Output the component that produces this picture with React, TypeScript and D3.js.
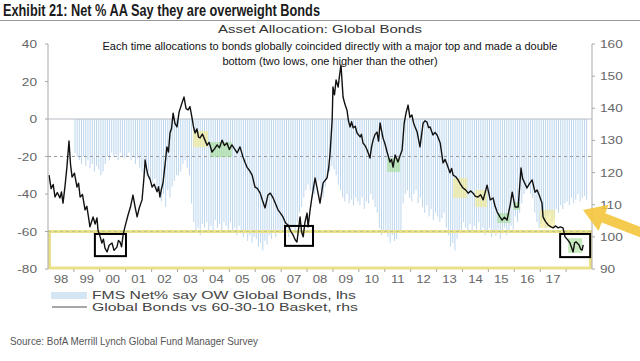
import * as d3 from 'd3';

// FMS net % overweight global bonds (lhs), monthly from Jan 1999
const fmsNet = [
  -18, -20, -22, -24, -20, -25, -22, -26, -24, -28, -25, -27, // 1999
  -30, -28, -24, -20, -22, -18, -20, -19, -22, -18, -20, -21, // 2000
  -20, -18, -22, -20, -24, -21, -26, -28, -25, -30, -28, -32, // 2001
  -34, -32, -38, -36, -44, -40, -47, -38, -42, -36, -33, -30, // 2002
  -30, -28, -24, -22, -26, -30, -45, -55, -60, -58, -62, -56, // 2003
  -58, -55, -60, -57, -61, -54, -58, -56, -60, -55, -57, -59, // 2004
  -55, -60, -58, -62, -57, -61, -63, -60, -65, -62, -66, -63, // 2005
  -64, -68, -66, -70, -65, -67, -62, -64, -60, -63, -59, -61, // 2006
  -60, -62, -58, -63, -60, -57, -61, -55, -50, -47, -42, -38, // 2007
  -35, -38, -42, -40, -36, -33, -38, -42, -36, -30, -28, -25, // 2008
  -27, -30, -35, -38, -42, -44, -40, -45, -43, -46, -42, -44, // 2009
  -46, -42, -48, -44, -45, -40, -43, -47, -50, -58, -62, -60, // 2010
  -60, -63, -66, -62, -65, -64, -60, -61, -45, -40, -38, -42, // 2011
  -44, -40, -38, -45, -42, -47, -50, -46, -52, -48, -54, -50, // 2012
  -52, -55, -53, -50, -58, -62, -68, -66, -70, -64, -61, -59, // 2013
  -55, -58, -60, -56, -61, -57, -59, -55, -60, -58, -62, -60, // 2014
  -58, -63, -60, -62, -59, -64, -61, -58, -62, -60, -57, -59, // 2015
  -52, -55, -50, -45, -40, -38, -36, -40, -42, -50, -55, -58, // 2016
  -56, -54, -58, -52, -50, -55, -53, -48, -50, -46, -48, -45, // 2017
  -44, -46, -42, -45, -43, -40, -44, -42, -41, -43,           // 2018
];
const fmsStartYear = 1999;

// Global Bonds vs 60-30-10 basket (rhs)
const bondDates = [
  1998.04, 1998.12, 1998.2, 1998.27, 1998.36, 1998.46, 1998.52, 1998.58, 1998.66, 1998.73,
  1998.81, 1998.87, 1998.93, 1999.02, 1999.12, 1999.18, 1999.24, 1999.33, 1999.43, 1999.5,
  1999.62, 1999.68, 1999.74, 1999.82, 1999.89, 1999.93, 2000.0, 2000.08, 2000.14, 2000.2,
  2000.28, 2000.36, 2000.47, 2000.55, 2000.66, 2000.72, 2000.78, 2000.84, 2000.9, 2000.97,
  2001.09, 2001.18, 2001.28, 2001.36, 2001.44, 2001.52, 2001.63, 2001.7, 2001.75, 2001.81,
  2001.86, 2001.94, 2002.02, 2002.1, 2002.21, 2002.27, 2002.32, 2002.38, 2002.44, 2002.52,
  2002.59, 2002.65, 2002.71, 2002.77, 2002.83, 2002.9, 2002.98, 2003.06, 2003.17, 2003.25,
  2003.33, 2003.41, 2003.48, 2003.56, 2003.62, 2003.68, 2003.75, 2003.81, 2003.87, 2003.96,
  2004.06, 2004.14, 2004.22, 2004.33, 2004.42, 2004.53, 2004.62, 2004.72, 2004.81, 2004.91,
  2005.0, 2005.1, 2005.2, 2005.3, 2005.41, 2005.53, 2005.6, 2005.68, 2005.78, 2005.88,
  2005.99, 2006.08, 2006.19, 2006.28, 2006.38, 2006.49, 2006.58, 2006.69, 2006.78, 2006.88,
  2006.98, 2007.07, 2007.17, 2007.27, 2007.36, 2007.46, 2007.54, 2007.61, 2007.73, 2007.79,
  2007.85, 2007.92, 2008.0, 2008.04, 2008.12, 2008.19, 2008.31, 2008.4, 2008.5, 2008.62,
  2008.77, 2008.84, 2008.89, 2008.97, 2009.0, 2009.06, 2009.12, 2009.2, 2009.26, 2009.31,
  2009.39, 2009.46, 2009.54, 2009.6, 2009.66, 2009.72, 2009.78, 2009.86, 2009.93, 2010.05,
  2010.1, 2010.16, 2010.24, 2010.32, 2010.43, 2010.49, 2010.55, 2010.62, 2010.7, 2010.76,
  2010.82, 2010.88, 2010.93, 2011.01, 2011.09, 2011.2, 2011.26, 2011.32, 2011.4, 2011.51,
  2011.58, 2011.67, 2011.75, 2011.82, 2011.9, 2011.97, 2012.05, 2012.11, 2012.17, 2012.25,
  2012.36, 2012.48, 2012.55, 2012.63, 2012.69, 2012.75, 2012.86, 2012.94, 2013.02, 2013.14,
  2013.25, 2013.33, 2013.41, 2013.52, 2013.58, 2013.64, 2013.74, 2013.83, 2013.92, 2014.02,
  2014.12, 2014.22, 2014.32, 2014.41, 2014.5, 2014.6, 2014.7, 2014.8, 2014.95, 2015.07,
  2015.18, 2015.26, 2015.34, 2015.44, 2015.53, 2015.62, 2015.72, 2015.84, 2015.92, 2016.03,
  2016.15, 2016.26, 2016.32, 2016.38, 2016.49, 2016.58, 2016.69, 2016.8, 2016.88, 2016.96,
  2017.07, 2017.11, 2017.2, 2017.31, 2017.4, 2017.5, 2017.6, 2017.69, 2017.78, 2017.88,
  2017.96, 2018.05, 2018.15, 2018.27, 2018.33, 2018.39, 2018.5, 2018.56, 2018.62, 2018.66,
];
const bondValues = [
  119.2, 115.0, 116.3, 112.4, 113.8, 112.1, 114.0, 110.5, 116.0, 121.7,
  129.8, 122.5, 118.6, 119.8, 115.5, 116.7, 112.4, 113.2, 108.4, 109.5,
  103.1, 104.6, 106.2, 104.0, 105.9, 102.1, 100.4, 98.1, 99.3, 96.5,
  95.3, 97.4, 98.1, 95.8, 96.8, 98.9, 98.4, 96.9, 100.6, 103.1,
  106.8, 109.2, 113.0, 109.4, 106.2, 108.9, 111.5, 118.0, 123.9, 121.0,
  119.2, 117.9, 115.5, 116.4, 114.0, 115.6, 112.4, 114.9, 116.8, 122.6,
  128.0, 126.4, 132.3, 133.8, 138.5, 135.3, 134.2, 138.8, 141.6, 143.5,
  139.9, 139.5, 140.5, 137.0, 134.1, 132.3, 133.6, 131.0, 130.8, 132.0,
  130.1, 128.5, 129.4, 126.4, 127.3, 128.6, 127.7, 130.1, 128.4, 129.2,
  127.2, 128.6, 127.4, 126.1, 128.0, 124.8, 123.3, 121.7, 120.6, 119.2,
  115.5, 115.1, 113.6, 111.3, 109.0, 113.0, 113.6, 112.1, 110.4, 108.4,
  107.3, 106.2, 104.3, 103.7, 101.9, 100.6, 99.1, 98.4, 106.2, 101.5,
  100.0, 104.6, 107.4, 103.1, 108.5, 112.4, 118.3, 114.7, 110.5, 116.8,
  118.3, 121.8, 126.1, 136.4, 146.6, 144.2, 148.8, 146.6, 150.6, 153.5,
  143.5, 141.3, 139.5, 136.1, 134.2, 135.8, 133.9, 134.4, 132.3, 131.1,
  131.9, 129.2, 128.4, 127.0, 124.5, 128.0, 130.1, 131.8, 132.6, 129.8,
  135.4, 132.9, 130.8, 128.9, 126.4, 123.3, 124.1, 121.7, 125.5, 123.3,
  125.0, 127.0, 135.4, 138.5, 141.0, 137.2, 137.9, 135.5, 134.2, 132.6,
  128.0, 135.4, 136.1, 135.7, 134.0, 134.2, 131.7, 132.5, 131.7, 129.2,
  123.0, 124.1, 122.4, 119.9, 121.3, 119.2, 118.7, 117.7, 116.4, 115.2,
  114.6, 113.6, 114.3, 113.6, 112.6, 112.4, 113.1, 111.5, 116.1, 111.5,
  112.1, 109.5, 107.7, 106.3, 105.2, 106.1, 105.2, 109.9, 113.9, 109.3,
  109.3, 121.4, 118.2, 117.1, 115.2, 116.5, 117.7, 113.9, 114.6, 113.0,
  110.5, 106.2, 104.8, 103.7, 103.2, 102.8, 103.4, 102.8, 103.1, 102.8,
  100.0, 99.2, 98.1, 95.3, 98.2, 98.4, 97.5, 96.2, 95.9, 97.5,
];

const leftTicks = [40, 20, 0, -20, -40, -60, -80];
const rightTicks = [160, 150, 140, 130, 120, 110, 100, 90];
const yearLabels = ['98', '99', '00', '01', '02', '03', '04', '05', '06', '07', '08', '09', '10', '11', '12', '13', '14', '15', '16', '17'];

// highlighted stretches: [from, to, low, high] in years / rhs units
const yellowSpots = [
  [2003.6, 2004.18, 127.9, 132.9],
  [2013.64, 2014.18, 112.1, 118.3],
  [2014.49, 2014.95, 109.3, 114.6],
  [2016.99, 2017.57, 102.8, 108.4],
];
const greenSpots = [
  [2004.26, 2005.1, 124.8, 129.5],
  [2011.09, 2011.59, 120.2, 124.5],
  [2015.34, 2015.84, 104.3, 107.4],
  [2015.96, 2016.22, 108.4, 110.8],
  [2018.08, 2018.62, 95.0, 99.6],
];
// double-bottom boxes
const bottomBoxes = [
  [1999.81, 2001.01, 94.0, 100.9],
  [2007.15, 2008.23, 97.2, 103.4],
  [2017.77, 2018.93, 93.7, 100.9],
];

const W = 640;
const H = 361;
const L = 48, R = 592, T = 44, B = 269;

const x = d3.scaleLinear().domain([1998, 2019]).range([L, R]);
const yL = d3.scaleLinear().domain([-80, 40]).range([B, T]);
const yR = d3.scaleLinear().domain([90, 160]).range([B, T]);

const sans = "'Liberation Sans', Arial, sans-serif";
const narrow = "'Liberation Sans Narrow', 'Arial Narrow', 'Liberation Sans', sans-serif";

// chart text is horizontally stretched in the source image
const SText = ({ x, y, anchor = 'start', size = 10.5, sx = 1.3, fill = '#666', children }) => (
  <text transform={`translate(${x},${y}) scale(${sx},1)`} textAnchor={anchor} fontSize={size} fontFamily={sans} fill={fill}>
    {children}
  </text>
);

export default function App() {
  const line = d3.line<number>()
    .x((d, i) => x(bondDates[i]))
    .y(d => yR(d));

  const arrowTip = [583, 210];
  const dir = [-0.933, -0.36];
  const perp = [-dir[1], dir[0]];
  const headLen = 22, headW = 14, shaftW = 5, shaftLen = 70;
  const hb = [arrowTip[0] - dir[0] * headLen, arrowTip[1] - dir[1] * headLen];
  const tail = [arrowTip[0] - dir[0] * shaftLen, arrowTip[1] - dir[1] * shaftLen];
  const arrowPts = [
    arrowTip,
    [hb[0] + perp[0] * headW, hb[1] + perp[1] * headW],
    [hb[0] + perp[0] * shaftW, hb[1] + perp[1] * shaftW],
    [tail[0] + perp[0] * shaftW, tail[1] + perp[1] * shaftW],
    [tail[0] - perp[0] * shaftW, tail[1] - perp[1] * shaftW],
    [hb[0] - perp[0] * shaftW, hb[1] - perp[1] * shaftW],
    [hb[0] - perp[0] * headW, hb[1] - perp[1] * headW],
  ].map(p => p.join(',')).join(' ');

  return (
    <svg width={W} height={H} style={{ position: 'absolute', left: 0, top: 0, background: '#fff' }}>
      {/* header */}
      <text x={3} y={16} fontSize={16} fontWeight="bold" fontFamily={narrow} fill="#1b1b1b"
        textLength={317} lengthAdjust="spacingAndGlyphs">
        Exhibit 21: Net % AA Say they are overweight Bonds
      </text>
      <line x1={0} x2={W} y1={20.5} y2={20.5} stroke="#9a9a9a" strokeWidth={1} />
      <text x={218} y={33} fontSize={11.5} fontFamily={sans} fill="#333" textLength={204} lengthAdjust="spacingAndGlyphs">
        Asset Allocation: Global Bonds
      </text>

      {/* fms bars */}
      {fmsNet.map((v, i) => {
        const xx = x(fmsStartYear + i / 12 + 1 / 24);
        return <rect key={i} x={xx - 0.5} width={1} y={yL(0)} height={yL(v) - yL(0)} fill="#bcd6ee" />;
      })}

      {/* grid */}
      <line x1={L} x2={R} y1={yL(0)} y2={yL(0)} stroke="#b8bcc4" strokeWidth={1.2} />
      {[-20, -60].map(v => (
        <line key={v} x1={L} x2={R} y1={yL(v)} y2={yL(v)} stroke="#999" strokeWidth={1} strokeDasharray="3,3" />
      ))}

      {/* yellow band */}
      <rect x={x(1998) + 1.5} y={yL(-60)} width={x(2019) - x(1998) - 3} height={yL(-80) - yL(-60) - 1}
        fill="none" stroke="#ebe08a" strokeWidth={3} />
      <line x1={L} x2={R} y1={yL(-60)} y2={yL(-60)} stroke="#b9c98a" strokeWidth={1} strokeDasharray="3,3" />

      {/* highlights */}
      {yellowSpots.map((s, i) => (
        <rect key={'y' + i} x={x(s[0])} width={x(s[1]) - x(s[0])} y={yR(s[3])} height={yR(s[2]) - yR(s[3])}
          fill="#f1e98a" opacity={0.6} />
      ))}
      {greenSpots.map((s, i) => (
        <rect key={'g' + i} x={x(s[0])} width={x(s[1]) - x(s[0])} y={yR(s[3])} height={yR(s[2]) - yR(s[3])}
          fill="#9ad98a" opacity={0.55} />
      ))}

      {/* bond line */}
      <path d={line(bondValues) || ''} fill="none" stroke="#111" strokeWidth={1.4} strokeLinejoin="round" />

      {/* boxes */}
      {bottomBoxes.map((b, i) => (
        <rect key={'b' + i} x={x(b[0])} width={x(b[1]) - x(b[0])} y={yR(b[3])} height={yR(b[2]) - yR(b[3])}
          fill="none" stroke="#000" strokeWidth={2} />
      ))}

      {/* axes */}
      <line x1={L} x2={L} y1={T} y2={B} stroke="#a9a9a9" />
      <line x1={R} x2={R} y1={T} y2={B} stroke="#a9a9a9" />
      {leftTicks.map(v => (
        <g key={'l' + v}>
          <line x1={L - 3} x2={L} y1={yL(v)} y2={yL(v)} stroke="#a9a9a9" />
          <SText x={37} y={yL(v) + 4} anchor="end">{v}</SText>
        </g>
      ))}
      {rightTicks.map(v => (
        <g key={'r' + v}>
          <line x1={R} x2={R + 3} y1={yR(v)} y2={yR(v)} stroke="#a9a9a9" />
          <SText x={600} y={yR(v) + 4}>{v}</SText>
        </g>
      ))}
      {d3.range(1999, 2019).map(yr => (
        <line key={'t' + yr} x1={x(yr)} x2={x(yr)} y1={B} y2={B + 3} stroke="#a9a9a9" />
      ))}
      {yearLabels.map((lab, i) => (
        <SText key={lab} x={x(1998.5 + i)} y={283} anchor="middle" sx={1.25}>{lab}</SText>
      ))}

      {/* annotation */}
      <text x={330} y={50} fontSize={11} fontFamily={sans} fill="#111" textAnchor="middle">
        Each time allocations to bonds globally coincided directly with a major top and made a double
      </text>
      <text x={330} y={65} fontSize={11} fontFamily={sans} fill="#111" textAnchor="middle">
        bottom (two lows, one higher than the other)
      </text>

      {/* arrow */}
      <polygon points={arrowPts} fill="#f4c53c" opacity={0.9} />

      {/* legend */}
      {d3.range(52, 88, 2).map(px => (
        <line key={'lg' + px} x1={px} x2={px} y1={292} y2={299} stroke="#a9cbe9" strokeWidth={1} />
      ))}
      <text x={92} y={299} fontSize={10.5} fontFamily={sans} fill="#444" textLength={264} lengthAdjust="spacingAndGlyphs">
        FMS Net% say OW Global Bonds, lhs
      </text>
      <line x1={52} x2={87} y1={307} y2={307} stroke="#8a8a8a" strokeWidth={1.5} />
      <text x={92} y={311} fontSize={10.5} fontFamily={sans} fill="#444" textLength={266} lengthAdjust="spacingAndGlyphs">
        Global Bonds vs 60-30-10 Basket, rhs
      </text>

      <text x={10} y={345} fontSize={11} fontFamily={narrow} fill="#555" textLength={248} lengthAdjust="spacingAndGlyphs">
        Source: BofA Merrill Lynch Global Fund Manager Survey
      </text>
    </svg>
  );
}
